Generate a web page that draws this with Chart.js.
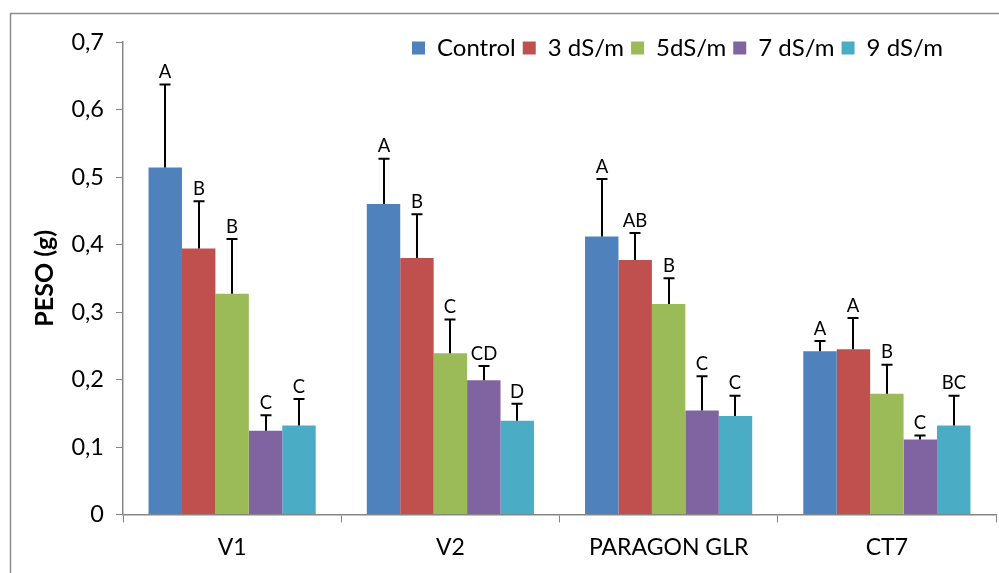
<!DOCTYPE html>
<html>
<head>
<meta charset="utf-8">
<script src="https://cdn.jsdelivr.net/npm/chart.js@4.4.1/dist/chart.umd.min.js"></script>
<style>
  html, body { margin: 0; padding: 0; background: #ffffff; }
  #wrap { width: 999px; height: 573px; position: relative; }
</style>
</head>
<body>
<div id="wrap"><canvas id="c" width="999" height="573"></canvas></div>
<script>
// ---- Data ----
const categories = ['V1', 'V2', 'PARAGON GLR', 'CT7'];
const seriesNames = ['Control', '3 dS/m', '5dS/m', '7 dS/m', '9 dS/m'];
const control = [0.514, 0.460, 0.412, 0.242];
const ds3 = [0.394, 0.380, 0.377, 0.245];
const ds5 = [0.327, 0.239, 0.312, 0.179];
const ds7 = [0.124, 0.199, 0.154, 0.111];
const ds9 = [0.132, 0.139, 0.146, 0.132];
// error bar (upper) sizes
const errControl = [0.123, 0.067, 0.085, 0.015];
const errDs3 = [0.070, 0.065, 0.040, 0.046];
const errDs5 = [0.081, 0.050, 0.038, 0.043];
const errDs7 = [0.023, 0.021, 0.051, 0.006];
const errDs9 = [0.039, 0.025, 0.030, 0.044];
// significance letters
const lettersControl = ['A', 'A', 'A', 'A'];
const lettersDs3 = ['B', 'B', 'AB', 'A'];
const lettersDs5 = ['B', 'C', 'B', 'B'];
const lettersDs7 = ['C', 'CD', 'C', 'C'];
const lettersDs9 = ['C', 'D', 'C', 'BC'];
const yTicks = [0, 0.1, 0.2, 0.3, 0.4, 0.5, 0.6, 0.7];

const colors = ['#4F81BD', '#C0504D', '#9BBB59', '#8064A2', '#4BACC6'];
const values = [control, ds3, ds5, ds7, ds9];
const errs = [errControl, errDs3, errDs5, errDs7, errDs9];
const letters = [lettersControl, lettersDs3, lettersDs5, lettersDs7, lettersDs9];

const FONT = 'Lato, "Liberation Sans", sans-serif';
const AXIS_GRAY = '#868686';

const borderPlugin = {
  id: 'outerBorder',
  beforeDraw(chart) {
    const ctx = chart.ctx;
    ctx.save();
    ctx.fillStyle = '#ffffff';
    ctx.fillRect(0, 0, chart.width, chart.height);
    ctx.strokeStyle = '#8c8c8c';
    ctx.lineWidth = 1.5;
    ctx.strokeRect(10.5, 13.5, 1200, 1000);
    ctx.restore();
  }
};

// place the legend inside the plot, top right
const legendPosPlugin = {
  id: 'legendPos',
  afterLayout(chart) {
    const lg = chart.legend;
    if (!lg) return;
    const pad = lg.options.labels.padding;
    const w = lg.right - lg.left;
    lg.left = 412 - pad;
    lg.right = lg.left + w;
    lg.top = 36 - pad;
    lg.bottom = lg.top + lg.height;
  }
};

const errorPlugin = {
  id: 'errorBars',
  afterDatasetsDraw(chart) {
    const ctx = chart.ctx;
    const y = chart.scales.y;
    ctx.save();
    ctx.strokeStyle = '#000000';
    ctx.lineWidth = 2;
    ctx.fillStyle = '#000000';
    ctx.font = '18.5px ' + FONT;
    ctx.textAlign = 'center';
    ctx.textBaseline = 'bottom';
    chart.data.datasets.forEach((ds, di) => {
      const meta = chart.getDatasetMeta(di);
      meta.data.forEach((bar, i) => {
        const x = Math.round(bar.x);
        const yBase = y.getPixelForValue(values[di][i]);
        const yTop = y.getPixelForValue(values[di][i] + errs[di][i]);
        ctx.beginPath();
        ctx.moveTo(x, yBase);
        ctx.lineTo(x, yTop);
        ctx.moveTo(x - 5.5, yTop);
        ctx.lineTo(x + 5.5, yTop);
        ctx.stroke();
        ctx.fillText(letters[di][i], x, yTop - 3);
      });
    });
    ctx.restore();
  }
};

const chart = new Chart(document.getElementById('c'), {
  type: 'bar',
  data: {
    labels: categories,
    datasets: seriesNames.map((name, i) => ({
      label: name,
      data: values[i],
      backgroundColor: colors[i],
      borderWidth: 0,
      categoryPercentage: 0.766,
      barPercentage: 1.0
    }))
  },
  options: {
    responsive: false,
    animation: false,
    devicePixelRatio: 1,
    layout: { padding: { left: 0, right: 3, top: 1, bottom: 0 } },
    plugins: {
      legend: {
        position: 'top',
        align: 'start',
        fullSize: true,
        labels: {
          font: { family: FONT, size: 24 },
          color: '#000000',
          boxWidth: 13,
          boxHeight: 13,
          padding: 7
        }
      },
      tooltip: { enabled: false },
      title: { display: false }
    },
    scales: {
      x: {
        offset: true,
        grid: {
          offset: true,
          drawOnChartArea: false,
          drawTicks: true,
          tickLength: 8,
          color: AXIS_GRAY,
          tickColor: AXIS_GRAY
        },
        border: { display: true, color: AXIS_GRAY, width: 1.5 },
        ticks: {
          font: { family: FONT, size: 23 },
          color: '#000000',
          padding: 11,
          maxRotation: 0
        },
        afterFit(scale) { scale.height = 58.5; }
      },
      y: {
        min: 0,
        max: 0.7,
        afterBuildTicks(scale) { scale.ticks = yTicks.map(v => ({ value: v })); },
        grid: {
          drawOnChartArea: false,
          drawTicks: true,
          tickLength: 7,
          color: AXIS_GRAY,
          tickColor: AXIS_GRAY
        },
        border: { display: true, color: AXIS_GRAY, width: 1.5 },
        ticks: {
          font: { family: FONT, size: 23.5 },
          color: '#000000',
          padding: 12,
          callback: (v) => (v === 0 ? '0' : v.toFixed(1).replace('.', ','))
        },
        title: {
          display: true,
          text: 'PESO (g)',
          font: { family: FONT, size: 25, weight: 'bold' },
          color: '#000000',
          padding: { top: 30, bottom: 0 }
        },
        afterFit(scale) { scale.width = 123; }
      }
    }
  },
  plugins: [borderPlugin, legendPosPlugin, errorPlugin]
});
</script>
</body>
</html>
